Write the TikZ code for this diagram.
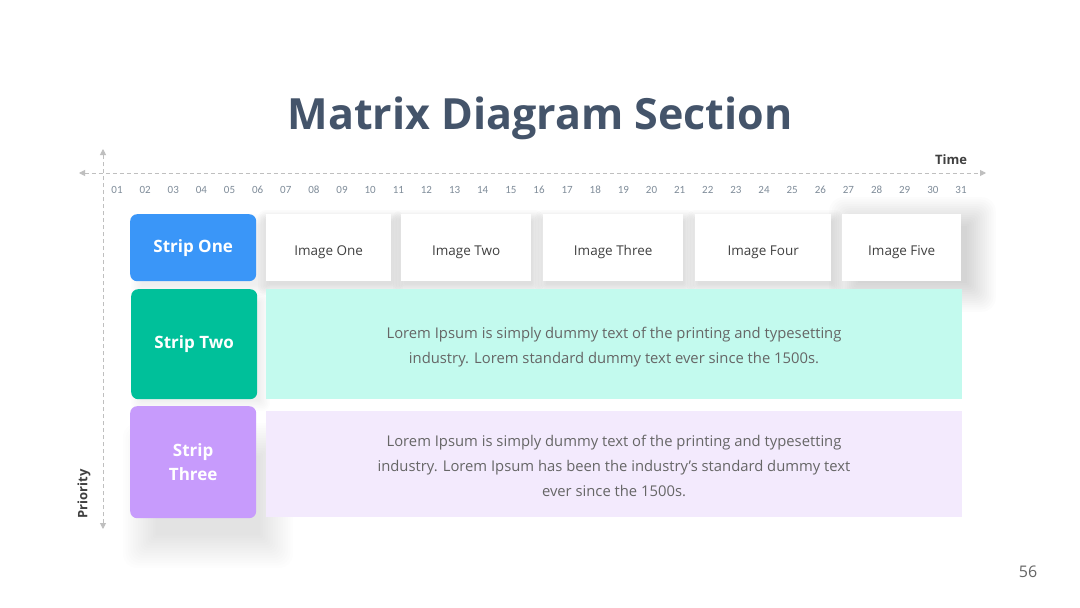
\documentclass[tikz,border=0pt]{standalone}
\usepackage{fontspec}
\setmainfont{Open Sans}
\newfontfamily\numfont{Carlito}
\usetikzlibrary{arrows.meta}
\definecolor{titlec}{HTML}{44546A}
\definecolor{blueS}{HTML}{3A96F8}
\definecolor{greenS}{HTML}{00C09A}
\definecolor{purpleS}{HTML}{C79BFC}
\definecolor{mintL}{HTML}{C3FAEE}
\definecolor{lavL}{HTML}{F3EAFD}
\definecolor{axisc}{HTML}{BFBFBF}
\definecolor{txtc}{HTML}{666666}
\definecolor{numc}{HTML}{7F8C99}
% soft shadow: x1 y1 x2 y2 dx dy layers opacity step
\newcommand\mysoftshadow[9]{%
  \foreach \k in {1,...,#7}{%
    \fill[black, opacity=#8, rounded corners=\k pt] ({#1-\k*#9+#5},{#2-\k*#9+#6}) rectangle ({#3+\k*#9+#5},{#4+\k*#9+#6});
  }}
\tikzset{
  axisline/.style={draw=axisc, line width=0.9pt, dash pattern=on 4pt off 3pt,
    {Triangle[width=6pt,length=6pt]}-{Triangle[width=6pt,length=6pt]}},
  stripbox/.style={rounded corners=7pt, text=white, font=\bfseries\fontsize{17}{24}\selectfont,
    align=center, inner sep=0pt},
  imgbox/.style={fill=white, inner sep=0pt, minimum height=67pt, anchor=north west},
  imglab/.style={font=\fontsize{13.5}{16}\selectfont, text=black!75, inner sep=0pt},
  bandbox/.style={inner sep=0pt, align=center, text=txtc, font=\fontsize{14.8}{25}\selectfont},
  numlab/.style={text=numc, font=\numfont\fontsize{11}{13}\selectfont, inner sep=0pt},
}
\begin{document}
\begin{tikzpicture}[x=1pt,y=-1pt]
\useasboundingbox[fill=white] (0,0) rectangle (1080,608);
% title
\node[text=titlec, font=\bfseries\fontsize{43}{52}\selectfont] (title) at (540,118) {Matrix Diagram Section};
% axes
\coordinate (vtop) at (103,149);
\coordinate (vbot) at (103,529);
\coordinate (hl) at (79,173);
\coordinate (hr) at (986,173);
\draw[axisline] (vbot) -- (vtop);
\draw[axisline] (hl) -- (hr);
\node[font=\bfseries\fontsize{13}{15}\selectfont, text=black!75] (time) at (951,160) {Time};
\node[font=\bfseries\fontsize{13}{15}\selectfont, text=black!75, rotate=90] (prio) at (84,494) {Priority};
\foreach \i in {1,...,31}{
  \pgfmathsetmacro{\xx}{117+(\i-1)*28.133}
  \node[numlab] (n\i) at (\xx,190) {\ifnum\i<10 0\fi\i};
}
% shadows
\mysoftshadow{150}{440}{250}{515}{8}{18}{14}{0.009}{2.5}
\mysoftshadow{140}{300}{255}{395}{3}{4}{8}{0.008}{1.5}
\mysoftshadow{140}{222}{255}{280}{3}{4}{8}{0.008}{1.5}
\mysoftshadow{268}{218}{389}{279}{2}{4}{8}{0.016}{1.5}
\mysoftshadow{403}{218}{529}{279}{2}{4}{8}{0.016}{1.5}
\mysoftshadow{545}{218}{681}{279}{2}{4}{8}{0.016}{1.5}
\mysoftshadow{697}{218}{829}{279}{2}{4}{8}{0.016}{1.5}
\mysoftshadow{850}{222}{955}{275}{10}{6}{14}{0.011}{2.2}
% strips
\node[stripbox, fill=purpleS, minimum width=126pt, minimum height=112pt, anchor=north west] (s3) at (130,406) {Strip\\Three};
\fill[lavL] (266,411) rectangle (962,517);
\node[bandbox] (t3) at (614,466) {Lorem Ipsum is simply dummy text of the printing and typesetting\\industry. Lorem Ipsum has been the industry's standard dummy text\\ever since the 1500s.};
\node[stripbox, fill=greenS, minimum width=126pt, minimum height=110pt, anchor=north west] (s2) at (131,289) {Strip Two};
\fill[mintL] (266,289) rectangle (962,399);
\node[bandbox] (t2) at (614,347.5) {Lorem Ipsum is simply dummy text of the printing and typesetting\\industry. Lorem standard dummy text ever since the 1500s.};
\node[stripbox, fill=blueS, minimum width=126pt, minimum height=67pt, anchor=north west] (s1) at (130,214) {Strip One};
% image boxes
\node[imgbox, minimum width=125pt] (i1) at (266,214) {};
\node[imgbox, minimum width=130pt] (i2) at (401,214) {};
\node[imgbox, minimum width=140pt] (i3) at (543,214) {};
\node[imgbox, minimum width=136pt] (i4) at (695,214) {};
\node[imgbox, minimum width=119pt] (i5) at (842,214) {};
\node[imglab] (l1) at ([yshift=-4.5pt]i1.center) {Image One};
\node[imglab] (l2) at ([yshift=-4.5pt]i2.center) {Image Two};
\node[imglab] (l3) at ([yshift=-4.5pt]i3.center) {Image Three};
\node[imglab] (l4) at ([yshift=-4.5pt]i4.center) {Image Four};
\node[imglab] (l5) at ([yshift=-4.5pt]i5.center) {Image Five};
% page number
\node[text=black!60, font=\fontsize{16}{18}\selectfont] (pg) at (1028,572) {56};
\end{tikzpicture}
\end{document}
